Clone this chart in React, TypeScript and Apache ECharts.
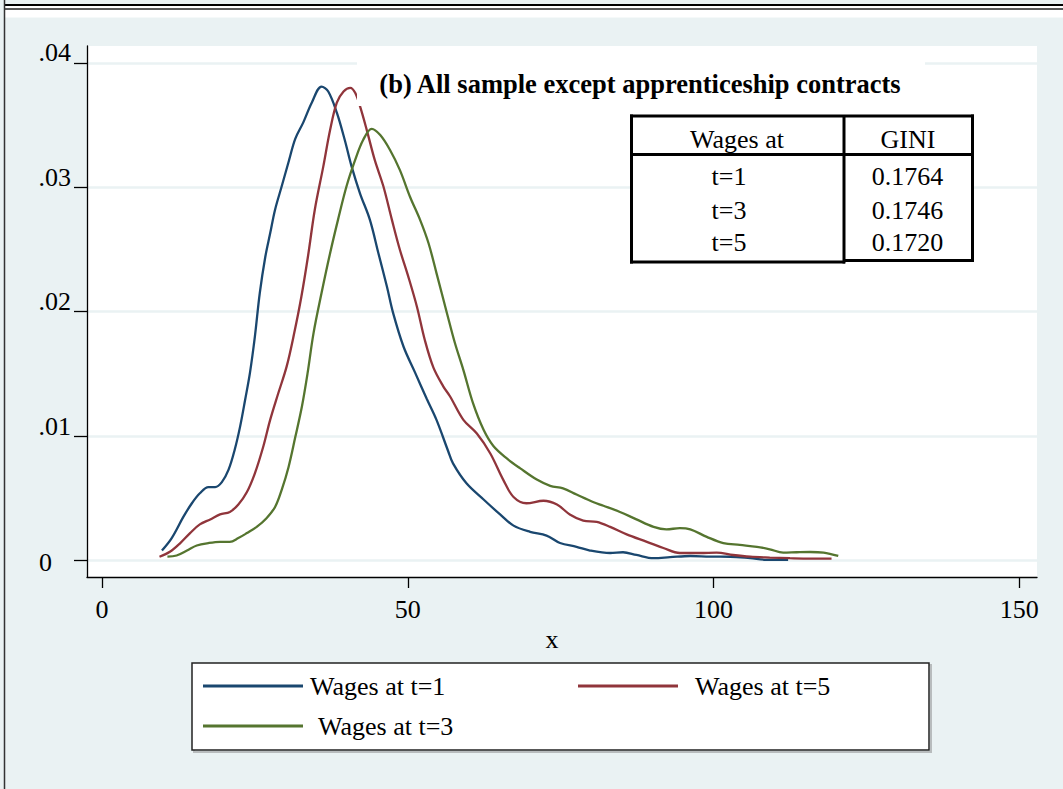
import React, { useEffect, useRef } from "react";
import * as echarts from "echarts";

const FONT = '"Liberation Serif", "Times New Roman", serif';

const titleText = "(b) All sample except apprenticeship contracts";
const seriesNames = ["Wages at t=1", "Wages at t=5", "Wages at t=3"];
const seriesColors = ["#1a476f", "#90353b", "#55752f"];

const xTicks = [0, 50, 100, 150];
const yTicks = [0, 0.01, 0.02, 0.03, 0.04];
const yTickLabels = ["0", ".01", ".02", ".03", ".04"];
const xAxisTitle = "x";

const tableHeader = ["Wages at", "GINI"];
const tableRowLabels = ["t=1", "t=3", "t=5"];
const tableGini = ["0.1764", "0.1746", "0.1720"];

// Wages at t=1
const wagesT1: [number, number][] = [
  [9.8, 0.0008], [11.4, 0.0018], [13.3, 0.0035], [14.7, 0.0046], [16.0, 0.0054],
  [17.4, 0.0059], [18.5, 0.0059], [19.6, 0.0063], [20.7, 0.0073], [21.7, 0.0089],
  [22.6, 0.0108], [23.4, 0.0129], [24.2, 0.0151], [25.0, 0.018], [25.8, 0.0215],
  [26.7, 0.0244], [27.5, 0.0263], [28.3, 0.0282], [29.4, 0.0301], [30.6, 0.0322],
  [31.6, 0.0339], [32.9, 0.0352], [34.3, 0.0368], [35.9, 0.0381], [37.0, 0.0377],
  [38.4, 0.036], [39.7, 0.0338], [40.8, 0.0317], [42.2, 0.0295], [43.8, 0.0274],
  [45.2, 0.0247], [46.6, 0.022], [47.6, 0.0199], [49.3, 0.0172], [51.2, 0.0151],
  [53.1, 0.013], [54.7, 0.0113], [56.6, 0.0088], [57.4, 0.0078], [59.6, 0.0062],
  [62.4, 0.0049], [65.1, 0.0037], [67.3, 0.0028], [70.0, 0.0023], [72.7, 0.002],
  [74.9, 0.0014], [77.6, 0.0011], [79.8, 0.0008], [83.1, 0.0006], [85.2, 0.00066],
  [87.4, 0.00044], [90.2, 0.00018], [92.9, 0.00026], [96.2, 0.00036], [99.4, 0.00031],
  [102.7, 0.0003], [106.0, 0.00018], [108.7, 0.00005], [112.2, 0.00004],
];

// Wages at t=5
const wagesT5: [number, number][] = [
  [9.4, 0.0003], [11.1, 0.0007], [12.8, 0.0014], [14.4, 0.0022], [16.0, 0.0029],
  [17.7, 0.0033], [19.3, 0.0037], [20.9, 0.0039], [22.3, 0.0045], [23.7, 0.0055],
  [25.0, 0.007], [26.4, 0.0092], [27.5, 0.0113], [28.8, 0.0134], [30.2, 0.0156],
  [31.4, 0.0182], [32.6, 0.0212], [33.7, 0.0245], [34.8, 0.0282], [36.2, 0.0317],
  [37.3, 0.0346], [38.4, 0.0368], [39.5, 0.0377], [40.6, 0.038], [41.4, 0.0376],
  [42.2, 0.0365], [43.3, 0.0346], [44.6, 0.0322], [46.0, 0.0301], [47.4, 0.0274],
  [48.7, 0.025], [50.1, 0.0228], [51.5, 0.0204], [52.8, 0.0177], [54.2, 0.0155],
  [55.8, 0.014], [56.9, 0.0132], [59.1, 0.0113], [61.3, 0.0102], [63.5, 0.0086],
  [65.6, 0.0065], [67.3, 0.0051], [69.4, 0.0046], [72.2, 0.0048], [74.4, 0.0045],
  [76.5, 0.0037], [78.7, 0.0032], [80.9, 0.0031], [83.1, 0.0027], [85.8, 0.0021],
  [89.1, 0.0015], [91.8, 0.001], [94.5, 0.0006], [97.8, 0.0006], [100.5, 0.00063],
  [103.2, 0.00044], [106.0, 0.0003], [109.2, 0.00023], [112.5, 0.00018], [115.8, 0.00015],
  [119.3, 0.00015],
];

// Wages at t=3
const wagesT3: [number, number][] = [
  [10.7, 0.0003], [12.2, 0.0004], [13.9, 0.0008], [15.5, 0.0012], [17.4, 0.0014],
  [19.3, 0.0015], [20.9, 0.0015], [22.3, 0.0018], [23.7, 0.0022], [25.3, 0.0027],
  [26.9, 0.0034], [28.3, 0.0043], [29.4, 0.0057], [30.5, 0.0075], [31.6, 0.0099],
  [32.7, 0.0124], [33.6, 0.015], [34.6, 0.0183], [35.9, 0.0215], [37.3, 0.0247],
  [38.6, 0.0274], [40.0, 0.0301], [41.4, 0.0322], [42.7, 0.0338], [44.1, 0.0347],
  [45.5, 0.0342], [47.1, 0.033], [48.7, 0.0314], [50.4, 0.0292], [52.0, 0.0274],
  [53.4, 0.0255], [54.7, 0.0231], [56.4, 0.0199], [57.7, 0.0175], [59.1, 0.0153],
  [60.7, 0.0126], [62.4, 0.0105], [64.0, 0.0092], [66.2, 0.0082], [68.4, 0.0074],
  [71.1, 0.0065], [73.3, 0.006], [75.4, 0.0058], [77.6, 0.0053], [80.3, 0.0047],
  [82.0, 0.0044], [84.7, 0.0039], [87.4, 0.0033], [90.2, 0.0027], [92.3, 0.0025],
  [94.5, 0.0026], [96.2, 0.0025], [98.9, 0.0019], [101.6, 0.0014], [104.3, 0.00125],
  [107.1, 0.0011], [109.2, 0.0009], [111.4, 0.00063], [113.6, 0.00066], [115.8, 0.00068],
  [118.0, 0.00063], [120.4, 0.00036],
];

const seriesData = [wagesT1, wagesT5, wagesT3];

export default function App() {
  const ref = useRef<HTMLDivElement>(null);

  useEffect(() => {
    if (!ref.current) return;
    const chart = echarts.init(ref.current, null, { renderer: "svg" });

    const txt = (text: string, x: number, y: number, extra: any = {}) => ({
      type: "text",
      x,
      y,
      z: 12,
      style: {
        text,
        fontFamily: FONT,
        fontSize: 26,
        fill: "#000",
        align: "center",
        verticalAlign: "middle",
        ...extra,
      },
    });
    const ln = (x1: number, y1: number, x2: number, y2: number, w: number, c = "#000", z = 12) => ({
      type: "line",
      z,
      shape: { x1, y1, x2, y2 },
      style: { stroke: c, lineWidth: w },
    });

    const legendPos = [
      { left: 203, top: 673, pad: 2 },
      { left: 578, top: 673, pad: 12 },
      { left: 203, top: 713, pad: 10 },
    ];

    chart.setOption({
      animation: false,
      backgroundColor: "#EAF2F3",
      grid: {
        left: 87,
        top: 46,
        width: 950,
        height: 531,
        show: true,
        backgroundColor: "#ffffff",
        borderWidth: 0,
      },
      xAxis: {
        type: "value",
        min: -2.453,
        max: 152.9,
        name: xAxisTitle,
        nameLocation: "middle",
        nameGap: 43,
        nameTextStyle: { fontFamily: FONT, fontSize: 26, color: "#000", padding: [0, 20, 0, 0] },
        axisLine: { show: true, onZero: false, lineStyle: { color: "#000", width: 1.3 } },
        axisTick: { show: true, customValues: xTicks, length: 11, lineStyle: { color: "#000", width: 1.3 } },
        axisLabel: { customValues: xTicks, margin: 19, fontFamily: FONT, fontSize: 26, color: "#000" },
        splitLine: { show: false },
      },
      yAxis: {
        type: "value",
        min: -0.00133,
        max: 0.04136,
        axisLine: { show: true, onZero: false, lineStyle: { color: "#000", width: 1.3 } },
        axisTick: { show: true, customValues: yTicks, length: 13, lineStyle: { color: "#000", width: 1.3 } },
        axisLabel: {
          customValues: yTicks,
          margin: 16,
          formatter: (v: number) => {
            const i = yTicks.findIndex((t) => Math.abs(t - v) < 1e-9);
            const s = i >= 0 ? yTickLabels[i] : "";
            return i === 0 ? `{z|${s}}` : `{u|${s}}`;
          },
          rich: {
            u: { fontFamily: FONT, fontSize: 26, color: "#000", padding: [0, 0, 20, 0] },
            z: { fontFamily: FONT, fontSize: 26, color: "#000", padding: [4, 19, 0, 0] },
          },
        },
        splitLine: { show: true, lineStyle: { color: "#EAF2F3", width: 2.5 } },
      },
      legend: seriesNames.map((n, i) => ({
        data: [n],
        left: legendPos[i].left,
        top: legendPos[i].top,
        padding: 0,
        icon: "rect",
        itemWidth: 100,
        itemHeight: 3,
        z: 20,
        selectedMode: false,
        textStyle: {
          fontFamily: FONT,
          fontSize: 26,
          color: "#000",
          padding: [0, 0, 0, legendPos[i].pad],
        },
      })),
      series: seriesNames.map((n, i) => ({
        type: "line",
        name: n,
        data: seriesData[i],
        showSymbol: false,
        symbol: "none",
        smooth: 0.35,
        z: 2 + i,
        color: seriesColors[i],
        lineStyle: { color: seriesColors[i], width: 2.3 },
      })),
      graphic: [
        // outer frame
        { type: "rect", z: 1, shape: { x: 5, y: 6, width: 1058, height: 3 }, style: { fill: "#ffffff" } },
        { type: "rect", z: 1, shape: { x: 5, y: 9.5, width: 1058, height: 8 }, style: { fill: "#ffffff" } },
        ln(4, 5, 1063, 5, 2, "#000", 2),
        ln(4.5, 9, 1063, 9, 1.3, "#222", 2),
        ln(4.5, 0, 4.5, 789, 1.5, "#333", 2),
        // title mask + title
        { type: "rect", z: 10, shape: { x: 357, y: 48, width: 568, height: 58 }, style: { fill: "#ffffff" } },
        txt(titleText, 640, 84, { fontWeight: "bold", fontSize: 26.5 }),
        // table
        { type: "rect", z: 10, shape: { x: 631, y: 116, width: 342, height: 146 }, style: { fill: "#ffffff" } },
        ln(631.5, 114.5, 631.5, 263.5, 3),
        ln(972.5, 114.5, 972.5, 262, 3),
        ln(630, 116, 974, 116, 3),
        ln(630, 154.5, 974, 154.5, 3),
        ln(844, 116, 844, 263.5, 3),
        ln(630, 262, 845, 262, 3),
        ln(843, 260.5, 974, 260.5, 3),
        txt(tableHeader[0], 737, 139),
        txt(tableHeader[1], 908, 139),
        ...tableRowLabels.map((t, i) => txt(t, 729, [176.5, 210, 242][i])),
        ...tableGini.map((g, i) => txt(g, 907.5, [176.5, 210, 242][i])),
        // legend box
        { type: "rect", z: 3, shape: { x: 194, y: 665, width: 737, height: 87 }, style: { fill: "none", stroke: "#b8bcbd", lineWidth: 2 } },
        { type: "rect", z: 4, shape: { x: 192, y: 663, width: 737, height: 87 }, style: { fill: "#ffffff", stroke: "#222", lineWidth: 1.5 } },
      ],
    });

    return () => chart.dispose();
  }, []);

  return (
    <div
      ref={ref}
      style={{ position: "absolute", left: 0, top: 0, width: 1063, height: 789 }}
    />
  );
}
